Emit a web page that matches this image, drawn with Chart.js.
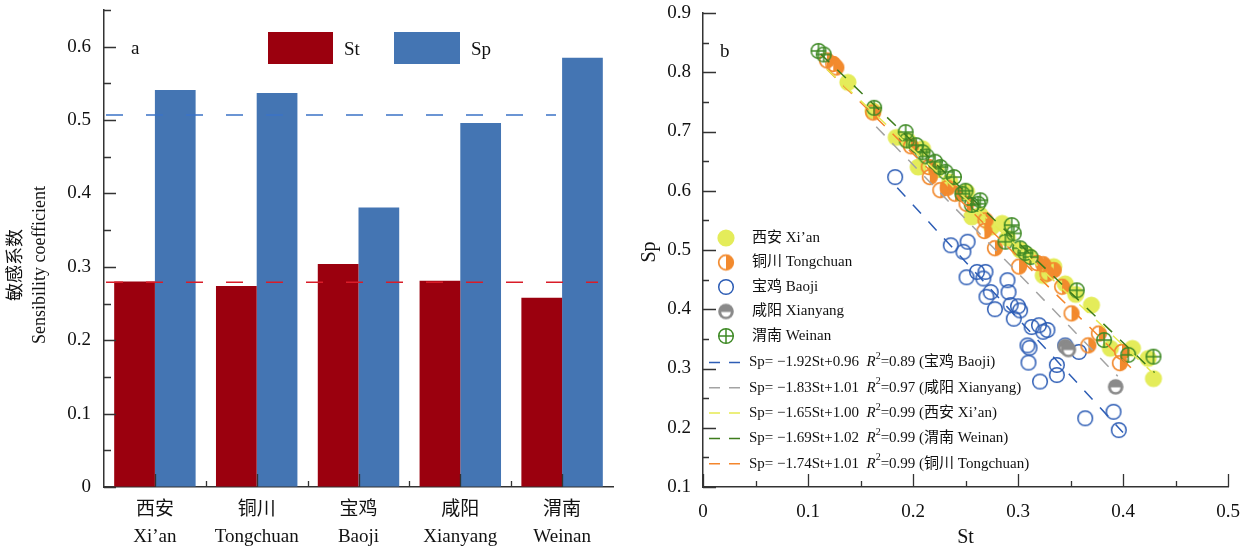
<!DOCTYPE html>
<html>
<head>
<meta charset="utf-8">
<script src="https://cdn.jsdelivr.net/npm/chart.js@4.4.0/dist/chart.umd.min.js"></script>
<style>
  body { margin: 0; background: #fff; }
  #wrapA { position: absolute; left: 0; top: 0; width: 630px; height: 551px; }
  #wrapB { position: absolute; left: 630px; top: 0; width: 618px; height: 551px; }
</style>
</head>
<body>
<div id="wrapA"><canvas id="chartA" width="630" height="551"></canvas></div>
<div id="wrapB"><canvas id="chartB" width="618" height="551"></canvas></div>
<script>
const SERIF = '"Liberation Serif", "Times New Roman", "Noto Sans CJK SC", serif';

// panel a: sensitivity coefficients per city
const cities = [['西安', 'Xi’an'], ['铜川', 'Tongchuan'], ['宝鸡', 'Baoji'], ['咸阳', 'Xianyang'], ['渭南', 'Weinan']];
const stValues = [0.280, 0.274, 0.304, 0.281, 0.258];
const spValues = [0.541, 0.537, 0.381, 0.496, 0.585];
const stMean = 0.279;
const spMean = 0.507;

// panel b: St vs Sp per station
const xianSt = [0.138, 0.162, 0.184, 0.195, 0.205, 0.209, 0.222, 0.235, 0.251, 0.256, 0.264, 0.275, 0.285, 0.290, 0.302, 0.310, 0.324, 0.334, 0.345, 0.355, 0.370, 0.388, 0.409, 0.424, 0.429];
const xianSp = [0.783, 0.735, 0.690, 0.685, 0.640, 0.671, 0.635, 0.615, 0.598, 0.556, 0.559, 0.539, 0.545, 0.520, 0.500, 0.490, 0.457, 0.472, 0.443, 0.425, 0.407, 0.334, 0.334, 0.317, 0.283];

const tongSt = [0.118, 0.124, 0.127, 0.162, 0.198, 0.215, 0.216, 0.226, 0.233, 0.240, 0.251, 0.269, 0.268, 0.278, 0.301, 0.318, 0.324, 0.328, 0.334, 0.342, 0.351, 0.377, 0.367, 0.399, 0.397];
const tongSp = [0.820, 0.814, 0.808, 0.732, 0.675, 0.640, 0.623, 0.601, 0.605, 0.595, 0.578, 0.550, 0.532, 0.503, 0.472, 0.478, 0.476, 0.460, 0.466, 0.438, 0.393, 0.359, 0.339, 0.328, 0.309];

const baojiSt = [0.183, 0.236, 0.252, 0.248, 0.251, 0.261, 0.269, 0.267, 0.274, 0.270, 0.278, 0.290, 0.291, 0.293, 0.296, 0.300, 0.302, 0.313, 0.320, 0.328, 0.324, 0.309, 0.311, 0.310, 0.321, 0.337, 0.337, 0.345, 0.358, 0.364, 0.391, 0.396];
const baojiSp = [0.623, 0.508, 0.514, 0.497, 0.454, 0.463, 0.463, 0.452, 0.429, 0.421, 0.400, 0.449, 0.429, 0.407, 0.384, 0.405, 0.398, 0.370, 0.373, 0.365, 0.362, 0.339, 0.335, 0.310, 0.278, 0.306, 0.289, 0.339, 0.328, 0.216, 0.227, 0.196];

const xianyangSt = [0.345, 0.348, 0.393];
const xianyangSp = [0.337, 0.332, 0.269];

const weinanSt = [0.110, 0.115, 0.163, 0.193, 0.194, 0.203, 0.209, 0.213, 0.221, 0.226, 0.231, 0.239, 0.247, 0.250, 0.256, 0.262, 0.264, 0.288, 0.294, 0.296, 0.302, 0.307, 0.312, 0.356, 0.382, 0.405, 0.429];
const weinanSp = [0.836, 0.830, 0.740, 0.699, 0.685, 0.677, 0.665, 0.658, 0.649, 0.640, 0.632, 0.623, 0.595, 0.600, 0.576, 0.578, 0.584, 0.514, 0.542, 0.528, 0.503, 0.495, 0.488, 0.432, 0.348, 0.323, 0.320];

// fitted lines (end points)
const fitNames = ['宝鸡 Baoji', '咸阳 Xianyang', '西安 Xi’an', '渭南 Weinan', '铜川 Tongchuan'];
const fitEq = ['Sp= −1.92St+0.96', 'Sp= −1.83St+1.01', 'Sp= −1.65St+1.00', 'Sp= −1.69St+1.02', 'Sp= −1.74St+1.01'];
const fitR2 = ['0.89', '0.97', '0.99', '0.99', '0.99'];
const fitSt = [[0.185, 0.400], [0.165, 0.395], [0.118, 0.430], [0.112, 0.430], [0.118, 0.410]];
const fitSp = [[0.605, 0.192], [0.708, 0.287], [0.805, 0.290], [0.831, 0.293], [0.805, 0.297]];
const fitColors = ['#2d5db5', '#a3a3a3', '#e6ea52', '#3d7c1c', '#f4862c'];

const pts = (xs, ys) => xs.map((x, i) => ({ x: x, y: ys[i] }));
const isMajor = v => Math.abs(Math.round(v * 100) % 10) === 0;
const fmt = v => (Math.abs(v) < 1e-9 ? '0' : v.toFixed(1));

// marker images
function marker(kind) {
  const c = document.createElement('canvas');
  c.width = 20; c.height = 20;
  const g = c.getContext('2d');
  const cx = 10, cy = 10, r = 7.3;
  if (kind === 'xian') {
    g.fillStyle = '#e4ec5a';
    g.beginPath(); g.arc(cx, cy, 8.6, 0, Math.PI * 2); g.fill();
  } else if (kind === 'tong') {
    g.fillStyle = '#f28a2e'; g.strokeStyle = '#f28a2e'; g.lineWidth = 1.7;
    g.beginPath(); g.moveTo(cx, cy - r); g.arc(cx, cy, r, -Math.PI / 2, Math.PI / 2); g.closePath(); g.fill();
    g.beginPath(); g.arc(cx, cy, r, 0, Math.PI * 2); g.stroke();
  } else if (kind === 'baoji') {
    g.strokeStyle = '#2d5db5'; g.lineWidth = 1.5;
    g.beginPath(); g.arc(cx, cy, r, 0, Math.PI * 2); g.stroke();
  } else if (kind === 'xianyang') {
    g.fillStyle = '#8a8a8a';
    g.beginPath(); g.arc(cx, cy, r + 0.5, 0, Math.PI * 2); g.fill();
    g.fillStyle = '#fff';
    g.beginPath(); g.arc(cx, cy + 0.5, r - 2.5, 0, Math.PI); g.closePath(); g.fill();
  } else if (kind === 'weinan') {
    g.strokeStyle = '#3f8a26'; g.lineWidth = 1.5;
    g.beginPath(); g.arc(cx, cy, r, 0, Math.PI * 2); g.stroke();
    g.beginPath(); g.moveTo(cx - r, cy); g.lineTo(cx + r, cy); g.moveTo(cx, cy - r); g.lineTo(cx, cy + r); g.stroke();
  }
  return c;
}
const mk = { xian: marker('xian'), tong: marker('tong'), baoji: marker('baoji'), xianyang: marker('xianyang'), weinan: marker('weinan') };

// ---------- panel a ----------
const panelA = {
  id: 'panelA',
  afterDatasetsDraw(chart) {
    const { ctx, chartArea: a, scales: { y } } = chart;
    ctx.save();
    ctx.lineWidth = 1.5;
    ctx.setLineDash([17, 23]);
    ctx.strokeStyle = '#3b73c6';
    ctx.beginPath(); ctx.moveTo(a.left + 2, y.getPixelForValue(spMean)); ctx.lineTo(556, y.getPixelForValue(spMean)); ctx.stroke();
    ctx.strokeStyle = '#d91c28';
    ctx.beginPath(); ctx.moveTo(a.left + 2, y.getPixelForValue(stMean)); ctx.lineTo(598, y.getPixelForValue(stMean)); ctx.stroke();
    ctx.restore();
  },
  afterDraw(chart) {
    const { ctx, chartArea: a, scales: { x, y } } = chart;
    ctx.save();
    ctx.strokeStyle = '#333'; ctx.lineWidth = 1.3;
    ctx.beginPath();
    y.ticks.forEach(t => {
      const py = Math.round(y.getPixelForValue(t.value)) + 0.5;
      ctx.moveTo(a.left, py); ctx.lineTo(a.left + (isMajor(t.value) ? 12 : 7), py);
    });
    const cw = (a.right - a.left) / cities.length;
    for (let i = 0; i < cities.length; i++) {
      const pc = Math.round(x.getPixelForValue(i)) + 0.5;
      ctx.moveTo(pc, a.bottom); ctx.lineTo(pc, a.bottom - 13);
      if (i > 0) {
        const pb = Math.round(a.left + i * cw) + 0.5;
        ctx.moveTo(pb, a.bottom); ctx.lineTo(pb, a.bottom - 6);
      }
    }
    ctx.stroke();

    // legend boxes
    ctx.fillStyle = '#9b000e'; ctx.fillRect(268, 32, 65, 32);
    ctx.fillStyle = '#4475b3'; ctx.fillRect(394, 32, 66, 32);
    ctx.fillStyle = '#111';
    ctx.font = '19px ' + SERIF; ctx.textBaseline = 'middle'; ctx.textAlign = 'left';
    ctx.fillText('St', 344, 50);
    ctx.fillText('Sp', 471, 50);
    ctx.fillText('a', 131, 49);

    // y title, two lines
    ctx.font = '18px ' + SERIF; ctx.textAlign = 'center';
    ctx.save(); ctx.translate(16, 265); ctx.rotate(-Math.PI / 2); ctx.fillText('敏感系数', 0, 0); ctx.restore();
    ctx.save(); ctx.translate(40, 265); ctx.rotate(-Math.PI / 2); ctx.fillText('Sensibility coefficient', 0, 0); ctx.restore();
    ctx.restore();
  }
};

new Chart(document.getElementById('chartA'), {
  type: 'bar',
  data: {
    labels: cities,
    datasets: [
      { label: 'St', data: stValues, backgroundColor: '#9b000e' },
      { label: 'Sp', data: spValues, backgroundColor: '#4475b3' }
    ]
  },
  options: {
    responsive: false,
    animation: false,
    devicePixelRatio: 1,
    layout: { padding: { top: 10, right: 17, left: 0, bottom: 0 } },
    datasets: { bar: { categoryPercentage: 0.8, barPercentage: 1.0 } },
    plugins: { legend: { display: false }, tooltip: { enabled: false } },
    scales: {
      x: {
        grid: { display: true, drawOnChartArea: false, drawTicks: false },
        border: { display: true, color: '#333', width: 1.5 },
        ticks: { color: '#111', padding: 10, maxRotation: 0, autoSkip: false, font: { family: SERIF, size: 19, lineHeight: 1.4 } },
        afterFit(s) { s.height = 64; s.paddingLeft = 0; s.paddingRight = 0; }
      },
      y: {
        min: 0, max: 0.65,
        grid: { display: true, drawOnChartArea: false, drawTicks: false },
        border: { display: true, color: '#333', width: 1.5 },
        ticks: {
          stepSize: 0.05, autoSkip: false, color: '#111', padding: 13,
          font: { family: SERIF, size: 19 },
          callback: v => (isMajor(v) ? fmt(v) : '')
        },
        afterFit(s) { s.width = 104; s.paddingTop = 0; s.paddingBottom = 0; }
      }
    }
  },
  plugins: [panelA]
});

// ---------- panel b ----------
const legendRows = [
  { img: mk.xian, text: '西安 Xi’an' },
  { img: mk.tong, text: '铜川 Tongchuan' },
  { img: mk.baoji, text: '宝鸡 Baoji' },
  { img: mk.xianyang, text: '咸阳 Xianyang' },
  { img: mk.weinan, text: '渭南 Weinan' }
];

const panelB = {
  id: 'panelB',
  afterDraw(chart) {
    const { ctx, chartArea: a, scales: { x, y } } = chart;
    ctx.save();
    ctx.strokeStyle = '#333'; ctx.lineWidth = 1.3;
    ctx.beginPath();
    y.ticks.forEach(t => {
      const py = Math.round(y.getPixelForValue(t.value)) + 0.5;
      ctx.moveTo(a.left, py); ctx.lineTo(a.left + (isMajor(t.value) ? 13 : 6), py);
    });
    x.ticks.forEach(t => {
      const px = Math.round(x.getPixelForValue(t.value)) + 0.5;
      ctx.moveTo(px, a.bottom); ctx.lineTo(px, a.bottom - (isMajor(t.value) ? 13 : 6));
    });
    ctx.stroke();

    ctx.fillStyle = '#111';
    ctx.textBaseline = 'middle';
    ctx.font = '20px ' + SERIF; ctx.textAlign = 'center';
    ctx.fillText('St', (a.left + a.right) / 2, 538);
    ctx.save(); ctx.translate(20, 252); ctx.rotate(-Math.PI / 2); ctx.fillText('Sp', 0, 0); ctx.restore();
    ctx.font = '19px ' + SERIF; ctx.textAlign = 'left';
    ctx.fillText('b', 90, 52);

    // marker legend
    ctx.font = '15px ' + SERIF;
    legendRows.forEach((r, i) => {
      const ly = 238 + i * 24.5;
      ctx.drawImage(r.img, 96 - 10, ly - 10);
      ctx.fillText(r.text, 122, ly);
    });

    // fitted line legend
    fitEq.forEach((eq, i) => {
      const ly = 362.5 + i * 25.3;
      ctx.strokeStyle = fitColors[i]; ctx.lineWidth = 1.5; ctx.setLineDash([11, 9]);
      ctx.beginPath(); ctx.moveTo(79, ly); ctx.lineTo(113, ly); ctx.stroke();
      ctx.setLineDash([]);
      let tx = 119;
      ctx.font = '15px ' + SERIF;
      ctx.fillText(eq + '  ', tx, ly); tx += ctx.measureText(eq + '  ').width;
      ctx.font = 'italic 15px ' + SERIF;
      ctx.fillText('R', tx, ly); tx += ctx.measureText('R').width;
      ctx.font = '10px ' + SERIF;
      ctx.fillText('2', tx, ly - 6); tx += ctx.measureText('2').width;
      ctx.font = '15px ' + SERIF;
      ctx.fillText('=' + fitR2[i] + ' (' + fitNames[i] + ')', tx, ly);
    });
    ctx.restore();
  }
};

const fitSets = fitEq.map((eq, i) => ({
  label: eq,
  data: pts(fitSt[i], fitSp[i]),
  showLine: true,
  borderColor: fitColors[i],
  borderWidth: 1.5,
  borderDash: [12, 11],
  pointRadius: 0,
  order: 0
}));

new Chart(document.getElementById('chartB'), {
  type: 'scatter',
  data: {
    datasets: [
      { label: '渭南 Weinan', data: pts(weinanSt, weinanSp), pointStyle: mk.weinan, order: 1 },
      { label: '铜川 Tongchuan', data: pts(tongSt, tongSp), pointStyle: mk.tong, order: 2 },
      { label: '西安 Xi’an', data: pts(xianSt, xianSp), pointStyle: mk.xian, order: 3 },
      { label: '咸阳 Xianyang', data: pts(xianyangSt, xianyangSp), pointStyle: mk.xianyang, order: 4 },
      { label: '宝鸡 Baoji', data: pts(baojiSt, baojiSp), pointStyle: mk.baoji, order: 5 }
    ].concat(fitSets)
  },
  options: {
    responsive: false,
    animation: false,
    devicePixelRatio: 1,
    layout: { padding: { top: 13, right: 20, left: 0, bottom: 0 } },
    plugins: { legend: { display: false }, tooltip: { enabled: false } },
    scales: {
      x: {
        type: 'linear', min: 0, max: 0.5,
        grid: { display: true, drawOnChartArea: false, drawTicks: false },
        border: { display: true, color: '#333', width: 1.5 },
        ticks: {
          stepSize: 0.05, autoSkip: false, maxRotation: 0, color: '#111', padding: 14,
          font: { family: SERIF, size: 19 },
          callback: v => (isMajor(v) ? fmt(v) : '')
        },
        afterFit(s) { s.height = 64; s.paddingLeft = 0; s.paddingRight = 0; }
      },
      y: {
        min: 0.1, max: 0.9,
        grid: { display: true, drawOnChartArea: false, drawTicks: false },
        border: { display: true, color: '#333', width: 1.5 },
        ticks: {
          stepSize: 0.05, autoSkip: false, color: '#111', padding: 12,
          font: { family: SERIF, size: 19 },
          callback: v => (isMajor(v) ? fmt(v) : '')
        },
        afterFit(s) { s.width = 73; s.paddingTop = 0; s.paddingBottom = 0; }
      }
    }
  },
  plugins: [panelB]
});
</script>
</body>
</html>
